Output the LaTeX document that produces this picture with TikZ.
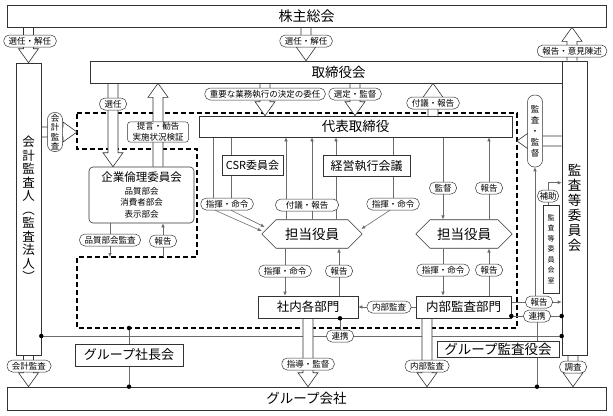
\documentclass[tikz,border=0pt]{standalone}
\usepackage{fontspec}
\setmainfont{Noto Sans CJK JP}
\usetikzlibrary{arrows.meta,calc,backgrounds,shapes.misc}
\definecolor{bd}{gray}{0.2}
\definecolor{lgray}{gray}{0.42}
\newcommand\jfs[1]{\fontsize{#1}{#1}\selectfont}
\tikzset{box/.style={draw=bd,fill=white,inner sep=0pt,line width=.6pt},
 hexa/.style={box,chamfered rectangle,chamfered rectangle xsep=6pt,chamfered rectangle ysep=8pt},
 lbl/.style={draw=bd,fill=white,rounded corners=5.5pt,inner xsep=5pt,inner ysep=0pt,
  minimum height=12pt,line width=.5pt,font=\jfs{8.5}},
 vlbl/.style={lbl,align=center,inner xsep=0pt,minimum width=15pt,rounded corners=7pt,
  font=\fontsize{8.5}{9.5}\selectfont},
 conn/.style={draw=lgray,line width=.6pt},
 arr/.style={conn,-{Latex[length=4pt,width=3.5pt]}},
 fat/.style={draw=bd,fill=white,line width=.6pt},
 dline/.style={draw=black,line width=1.1pt,dash pattern=on 5pt off 3pt},
 jdot/.style={circle,fill=black,inner sep=0pt,minimum size=4.5pt}}
\newcommand\fatarrow[2]{%
 \coordinate (fa-s) at (#1); \coordinate (fa-e) at (#2);
 \coordinate (fa-h) at ($(fa-e)!14pt!(fa-s)$);
 \draw[fat] ($(fa-s)!5pt!90:(fa-e)$) -- ($(fa-h)!5pt!-90:(fa-s)$) -- ($(fa-h)!10pt!-90:(fa-s)$)
  -- (fa-e) -- ($(fa-h)!10pt!90:(fa-s)$) -- ($(fa-h)!5pt!90:(fa-s)$) -- ($(fa-s)!5pt!-90:(fa-e)$);}

\begin{document}
\begin{tikzpicture}[x=1pt,y=-1pt]
\useasboundingbox (0,0) rectangle (613,415);
\node[box,minimum width=599pt,minimum height=22pt,font=\jfs{14}] (kabu) at (306.5,16) {株主総会};
\node[box,minimum width=497pt,minimum height=22pt,font=\jfs{13.5}] (torishimari) at (338.5,72) {取締役会};
\node[box,minimum width=25pt,minimum height=292pt,align=center,font=\fontsize{12.5}{13.5}\selectfont] (kaikei) at (28.5,209) {会\\計\\監\\査\\人\\︵\\監\\査\\法\\人\\︶};
\node[box,minimum width=25pt,minimum height=294pt,align=center,font=\fontsize{13.5}{15}\selectfont] (kansa) at (574.5,208) {監\\査\\等\\委\\員\\会};
\node[box,minimum width=313pt,minimum height=21pt,font=\jfs{13.5}] (daihyo) at (355.5,126.5) {代表取締役};
\node[box,rounded corners=4pt,minimum width=105pt,minimum height=56pt,align=center,
 font=\fontsize{8.5}{11.5}\selectfont] (rinri) at (141.5,195) {{\fontsize{11.5}{14}\selectfont 企業倫理委員会}\\[1pt]品質部会\\消費者部会\\表示部会};
\node[box,minimum width=61pt,minimum height=20pt,font=\jfs{11}] (csr) at (252.5,165) {CSR委員会};
\node[box,minimum width=87pt,minimum height=21pt,font=\jfs{12}] (keiei) at (366.5,166) {経営執行会議};
\node[hexa,minimum width=100pt,minimum height=22pt,font=\jfs{13.5}] (tan1) at (312,234) {担当役員};
\node[hexa,minimum width=96pt,minimum height=22pt,font=\jfs{13.5}] (tan2) at (464,234) {担当役員};
\node[box,minimum width=100pt,minimum height=22pt,font=\jfs{12.5}] (shanai) at (308,307) {社内各部門};
\node[box,minimum width=95pt,minimum height=22pt,font=\jfs{12.5}] (naibu) at (463.5,307) {内部監査部門};
\node[box,minimum width=16pt,minimum height=88pt,align=center,font=\fontsize{7}{10.5}\selectfont] (kshitsu) at (551,249) {監\\査\\等\\委\\員\\会\\室};
\node[box,minimum width=108pt,minimum height=22pt,font=\jfs{13}] (shacho) at (129,355) {グループ社長会};
\node[box,minimum width=122pt,minimum height=16pt,font=\jfs{13.5}] (gkansa) at (498,349) {グループ監査役会};
\node[box,minimum width=599pt,minimum height=23pt,font=\jfs{13.5}] (group) at (306.5,398.5) {グループ会社};

\node[lbl] (sk0) at (30,41) {選任・解任};
\node[lbl] (ss) at (306,41) {選任・解任};
\node[lbl] (hi) at (572,51) {報告・意見陳述};
\node[lbl] (sen) at (113,104) {選任};
\node[lbl] (juyo) at (265,94) {重要な業務執行の決定の委任};
\node[lbl] (sk) at (355,94) {選定・監督};
\node[lbl] (fugi) at (433,103) {付議・報告};
\node[lbl,rounded corners=3pt,align=center,font=\fontsize{8.5}{10.5}\selectfont,inner ysep=1pt] (teigen) at (158,132) {提言・勧告\\実施状況検証};
\node[vlbl,minimum height=39pt] (kk) at (55,132) {会\\計\\監\\査};
\node[vlbl,minimum height=72pt,font=\fontsize{8.5}{11}\selectfont] (kantoku) at (535,131) {監\\査\\・\\監\\督};
\node[lbl] (hinshitsu) at (110,240) {品質部会監査};
\node[lbl] (hk1) at (163,241) {報告};
\node[lbl] (sk1) at (227,204) {指揮・命令};
\node[lbl,minimum width=63pt] (fh) at (307,205) {付議・報告};
\node[lbl] (sk2) at (393,204) {指揮・命令};
\node[lbl] (kt2) at (443,188) {監督};
\node[lbl] (hk2) at (489,188) {報告};
\node[lbl] (sk3) at (285,271) {指揮・命令};
\node[lbl] (hk3) at (339,271) {報告};
\node[lbl] (sk4) at (443,270) {指揮・命令};
\node[lbl] (hk4) at (489,270) {報告};
\node[lbl] (nk1) at (389,307) {内部監査};
\node[lbl] (hk5) at (539,302) {報告};
\node[lbl] (rk2) at (537,316) {連携};
\node[lbl] (rk1) at (340,336) {連携};
\node[lbl,inner xsep=2pt] (hojo) at (548,196) {補助};
\node[lbl] (shido) at (308,364) {指導・監督};
\node[lbl] (nk2) at (427,366) {内部監査};
\node[lbl] (chosa) at (573,367) {調査};
\node[lbl] (kk2) at (29,366) {会計監査};

\begin{scope}[on background layer]
\coordinate (d1) at (77,113);
\coordinate (d2) at (517,113);
\coordinate (d3) at (517,328);
\coordinate (d4) at (77,328);
\coordinate (d5) at (77,257);
\coordinate (d6) at (197,257);
\coordinate (d7) at (197,149);
\coordinate (d8) at (77,149);
\coordinate (kkt) at (517,141);
\draw[dline] (d1) -- (d2) -- (d3) -- (d4) -- (d5) -- (d6) -- (d7) -- (d8) -- cycle;

\draw[arr] (rinri.south -| hinshitsu) -- (d5 -| hinshitsu);
\draw[arr] (d6 -| hk1) -- (rinri.south -| hk1);
\draw[conn] ($(sk1.north)+(-14,0)$) -- ($(sk1.north |- daihyo.south)+(-14,0)$);
\draw[conn] ($(csr.north -| sk1)+(4,0)$) -- ($(daihyo.south -| sk1)+(4,0)$);
\draw[conn] ($(csr.south -| sk1)+(4,0)$) -- ($(sk1.north)+(4,0)$);
\draw[arr] ($(sk1.south)+(-12,0)$) -- ($(tan1.west)+(0,-3)$);
\draw[arr] ($(sk1.south)+(4,0)$) -- ($(tan1.west)+(3,-7)$);
\draw[arr] ($(tan1.north)+(-26,0)$) -- ($(tan1.north |- daihyo.south)+(-26,0)$);
\draw[arr] (tan1.north) -- (tan1.north |- daihyo.south);
\draw[conn] ($(tan1.north)+(24,0)$) -- ($(tan1.north |- keiei.south)+(24,0)$);
\draw[arr] ($(tan1.north |- keiei.north)+(24,0)$) -- ($(tan1.north |- daihyo.south)+(24,0)$);
\draw[conn] (daihyo.south -| sk2) -- (keiei.north -| sk2);
\draw[conn] (keiei.south -| sk2) -- (sk2.north);
\draw[arr] ($(sk2.south)+(-3,0)$) -- ($(tan1.east)+(-1,-5)$);
\draw[arr] (daihyo.south -| kt2) -- (tan2.north -| kt2);
\draw[arr] (tan2.north -| hk2) -- (daihyo.south -| hk2);
\draw[arr] (tan1.south -| sk3) -- (shanai.north -| sk3);
\draw[arr] (shanai.north -| hk3) -- (tan1.south -| hk3);
\draw[arr] (tan2.south -| sk4) -- (naibu.north -| sk4);
\draw[arr] (naibu.north -| hk4) -- (tan2.south -| hk4);
\draw[arr] (naibu.west) -- (shanai.east);
\draw[arr] (naibu.east |- hk5) -- (kansa.west |- hk5);
\draw[arr] (hk5.north -| kantoku) -- (kantoku.south);
\draw[conn] (naibu.east |- rk2) -- (kansa.west |- rk2);
\draw[conn] (rk2.south) -- (group.north -| rk2);
\draw[conn] (kaikei.east |- rk1) -- (kansa.west |- rk1);
\draw[conn] (shanai.south -| rk1) -- (rk1.north);
\draw[conn] (d4 -| shacho) -- (group.north -| shacho);
\draw[conn] (kshitsu.north -| hojo) -- (hojo.south);
\draw[arr] (hojo.north) |- ($(hojo.north -| kansa.west)+(0,-7)$);

\fatarrow{kabu.south -| kaikei}{kaikei.north}
\fatarrow{kabu.south -| ss}{torishimari.north -| ss}
\fatarrow{kansa.north -| hi}{kabu.south -| hi}
\fatarrow{torishimari.south -| sen}{rinri.north -| sen}
\fatarrow{rinri.north -| teigen}{torishimari.south -| teigen}
\fatarrow{torishimari.south -| juyo}{daihyo.north -| juyo}
\fatarrow{torishimari.south -| sk}{daihyo.north -| sk}
\fatarrow{daihyo.north -| fugi}{torishimari.south -| fugi}
\fatarrow{kaikei.east |- kk}{d1 |- kk}
\fatarrow{kansa.west |- kkt}{kkt}
\fatarrow{shanai.south}{group.north -| shanai}
\fatarrow{naibu.south -| nk2}{group.north -| nk2}
\fatarrow{kansa.south -| chosa}{group.north -| chosa}
\fatarrow{kaikei.south}{group.north -| kaikei}
\end{scope}

\node[jdot] at (kaikei.east |- rk1) {};
\node[jdot] at (kansa.west |- rk1) {};
\node[jdot] at (shanai.south -| rk1) {};
\node[jdot] at (d4 -| shacho) {};
\node[jdot] at (group.north -| shacho) {};
\node[jdot] at (naibu.east |- rk2) {};
\node[jdot] at (kansa.west |- rk2) {};
\node[jdot] at (group.north -| rk2) {};
\end{tikzpicture}
\end{document}
